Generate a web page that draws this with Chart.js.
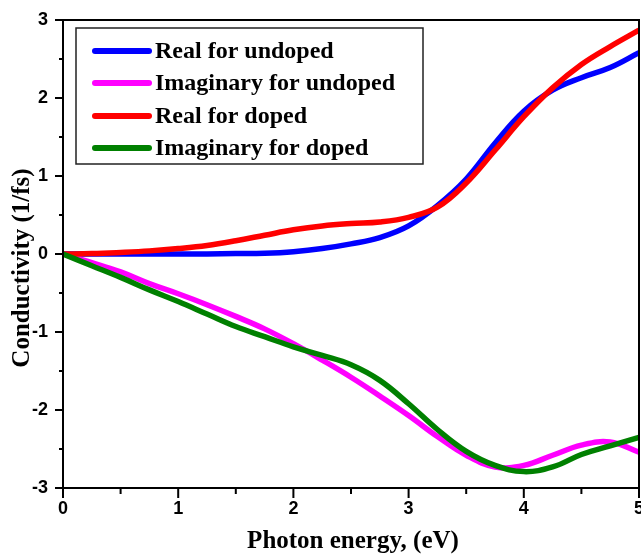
<!DOCTYPE html>
<html>
<head>
<meta charset="utf-8">
<script src="https://cdn.jsdelivr.net/npm/chart.js@4/dist/chart.umd.min.js"></script>
<style>
  html, body { margin: 0; padding: 0; background: #fff; }
  #wrap { width: 641px; height: 554px; }
</style>
</head>
<body>
<div id="wrap"><canvas id="c" width="641" height="554"></canvas></div>
<script>
// Photon energy grid (eV)
const energy = [0, 0.25, 0.5, 0.75, 1, 1.25, 1.5, 1.75, 2, 2.25, 2.5, 2.75, 3, 3.25, 3.5, 3.75, 4, 4.25, 4.5, 4.75, 5];

// Optical conductivity (1/fs)
const realUndoped = [0, 0, 0, 0, 0, 0, 0.005, 0.01, 0.03, 0.07, 0.13, 0.21, 0.36, 0.62, 0.96, 1.42, 1.83, 2.1, 2.26, 2.39, 2.58];
const imagUndoped = [0, -0.11, -0.23, -0.38, -0.51, -0.65, -0.8, -0.96, -1.15, -1.36, -1.58, -1.82, -2.07, -2.34, -2.58, -2.73, -2.71, -2.58, -2.45, -2.41, -2.54];
const realDoped   = [0, 0.005, 0.02, 0.04, 0.07, 0.11, 0.17, 0.24, 0.31, 0.36, 0.39, 0.41, 0.47, 0.6, 0.91, 1.33, 1.76, 2.13, 2.43, 2.66, 2.87];
const imagDoped   = [0, -0.15, -0.3, -0.46, -0.61, -0.77, -0.93, -1.06, -1.19, -1.3, -1.42, -1.62, -1.92, -2.25, -2.53, -2.71, -2.79, -2.73, -2.57, -2.46, -2.35];

const seriesNames = ['Real for undoped', 'Imaginary for undoped', 'Real for doped', 'Imaginary for doped'];
const seriesColors = ['#0000ff', '#ff00ff', '#ff0000', '#008000'];

const xTicks = [0, 1, 2, 3, 4, 5];
const yTicks = [-3, -2, -1, 0, 1, 2, 3];

const xTitle = 'Photon energy, (eV)';
const yTitle = 'Conductivity (1/fs)';

const SERIF = '"Liberation Serif", "Times New Roman", serif';
const SANS = '"Liberation Sans", Arial, sans-serif';

const toPoints = ys => energy.map((x, i) => ({ x, y: ys[i] }));
const allSeries = [realUndoped, imagUndoped, realDoped, imagDoped];
const drawOrder = [4, 3, 2, 1];

const datasets = allSeries.map((ys, i) => ({
  label: seriesNames[i],
  data: toPoints(ys),
  borderColor: seriesColors[i],
  backgroundColor: seriesColors[i],
  borderWidth: 5.5,
  pointRadius: 0,
  tension: 0.4,
  fill: false,
  order: drawOrder[i]
}));

// Frame, tick marks, axis titles and the boxed legend
const decor = {
  id: 'decor',
  afterDraw(chart) {
    const ctx = chart.ctx;
    const a = chart.chartArea;
    const xs = chart.scales.x, ys = chart.scales.y;
    ctx.save();
    ctx.strokeStyle = '#000';
    ctx.lineWidth = 2;
    ctx.strokeRect(a.left, a.top, a.right - a.left, a.bottom - a.top);

    // x tick marks (major + minor, outward)
    ctx.beginPath();
    for (let v = 0; v <= 5.001; v += 0.5) {
      const px = xs.getPixelForValue(v);
      const major = Math.abs(v - Math.round(v)) < 1e-6;
      ctx.moveTo(px, a.bottom);
      ctx.lineTo(px, a.bottom + (major ? 10 : 6));
    }
    // y tick marks
    for (let v = -3; v <= 3.001; v += 0.5) {
      const py = ys.getPixelForValue(v);
      const major = Math.abs(v - Math.round(v)) < 1e-6;
      ctx.moveTo(a.left, py);
      ctx.lineTo(a.left - (major ? 8 : 4), py);
    }
    ctx.stroke();

    // axis titles
    ctx.fillStyle = '#000';
    ctx.font = 'bold 25px ' + SERIF;
    ctx.textAlign = 'center';
    ctx.textBaseline = 'alphabetic';
    ctx.fillText(xTitle, (a.left + a.right) / 2 + 2, 548);
    ctx.save();
    ctx.translate(29, 268);
    ctx.rotate(-Math.PI / 2);
    ctx.fillText(yTitle, 0, 0);
    ctx.restore();

    // legend box
    const bx = 76, by = 28, bw = 347, bh = 136;
    ctx.fillStyle = '#fff';
    ctx.fillRect(bx, by, bw, bh);
    ctx.strokeStyle = '#222';
    ctx.lineWidth = 1.5;
    ctx.strokeRect(bx, by, bw, bh);
    const rows = [51, 83, 116, 148];
    ctx.font = 'bold 24px ' + SERIF;
    ctx.textAlign = 'left';
    ctx.textBaseline = 'middle';
    ctx.lineCap = 'round';
    seriesNames.forEach((name, i) => {
      ctx.strokeStyle = seriesColors[i];
      ctx.lineWidth = 6;
      ctx.beginPath();
      ctx.moveTo(95, rows[i]);
      ctx.lineTo(149, rows[i]);
      ctx.stroke();
      ctx.fillStyle = '#000';
      ctx.fillText(name, 155, rows[i] + 1);
    });
    ctx.restore();
  }
};

new Chart(document.getElementById('c'), {
  type: 'line',
  data: { datasets },
  options: {
    responsive: false,
    animation: false,
    events: [],
    layout: { padding: { top: 20, right: 2, left: 0, bottom: 0 } },
    plugins: { legend: { display: false }, tooltip: { enabled: false }, title: { display: false } },
    scales: {
      x: {
        type: 'linear',
        min: 0,
        max: 5,
        afterBuildTicks: s => { s.ticks = xTicks.map(v => ({ value: v })); },
        afterFit: s => { s.height = 66; s.paddingLeft = 0; s.paddingRight = 0; },
        grid: { display: false, drawTicks: false },
        border: { display: true, color: '#000', width: 2 },
        ticks: {
          padding: 10,
          color: '#000',
          font: { family: SANS, size: 18, weight: 'bold' },
          maxRotation: 0,
          autoSkip: false,
          callback: v => String(v)
        }
      },
      y: {
        type: 'linear',
        min: -3,
        max: 3,
        afterBuildTicks: s => { s.ticks = yTicks.map(v => ({ value: v })); },
        afterFit: s => { s.width = 63; s.paddingTop = 0; s.paddingBottom = 0; },
        grid: { display: false, drawTicks: false },
        border: { display: true, color: '#000', width: 2 },
        ticks: {
          padding: 15,
          color: '#000',
          font: { family: SANS, size: 18, weight: 'bold' },
          autoSkip: false,
          callback: v => String(v)
        }
      }
    }
  },
  plugins: [decor]
});
</script>
</body>
</html>
